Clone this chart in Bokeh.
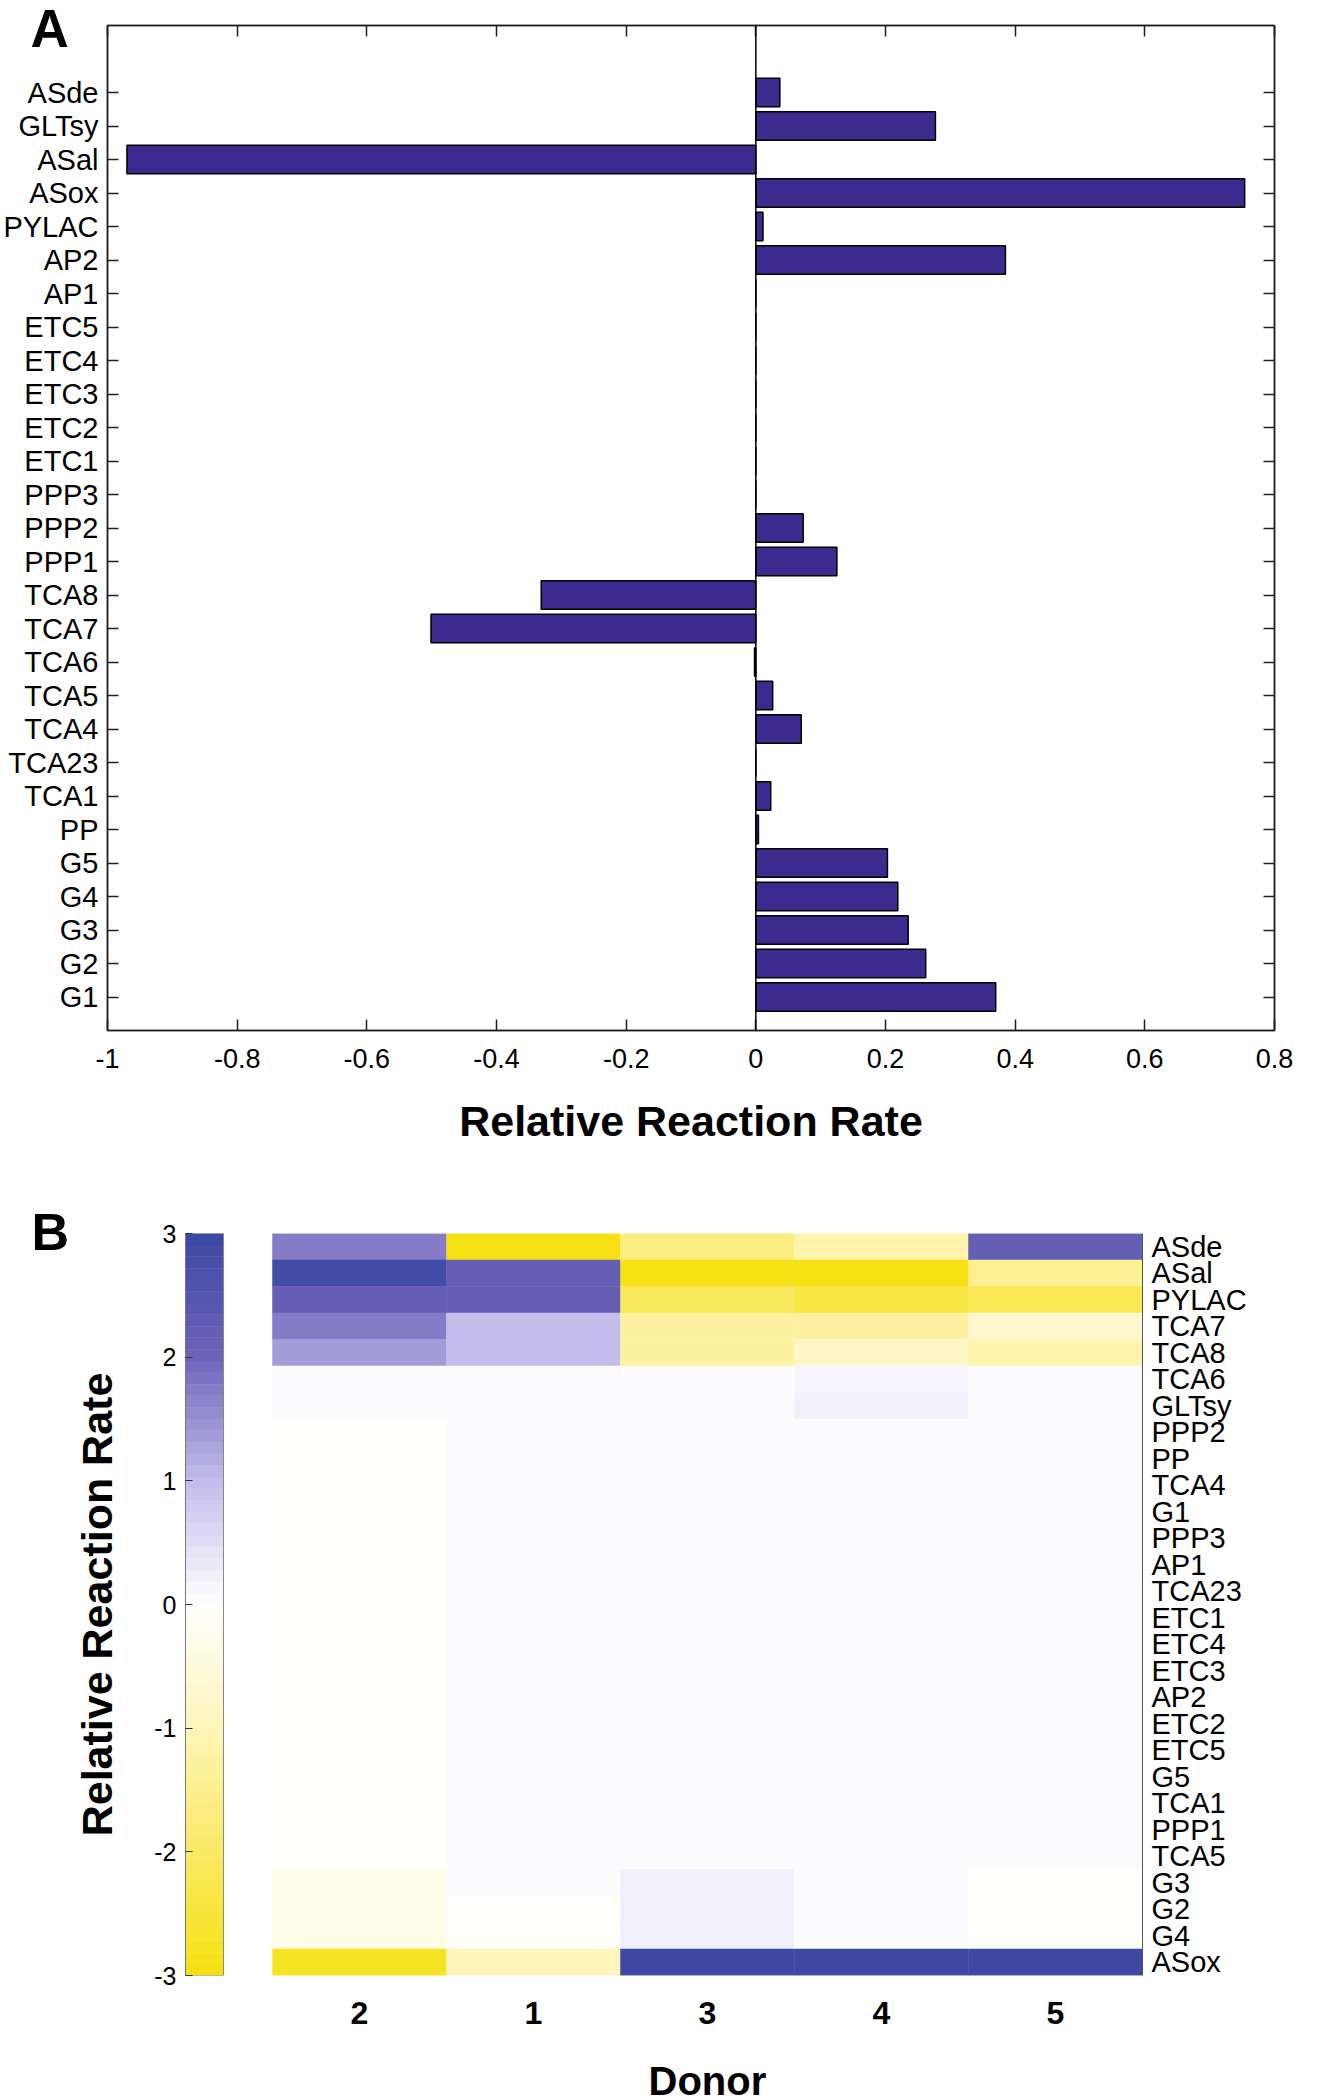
import numpy as np
from bokeh.plotting import figure
from bokeh.models import (FixedTicker, LinearAxis, Range1d, Span, Title,
                          LinearColorMapper, ColumnDataSource, CustomLabelingPolicy)
from bokeh.transform import transform
from bokeh.embed import file_html
from bokeh.resources import INLINE

# ---------------- data: panel A ----------------
bar_labels = ["ASde", "GLTsy", "ASal", "ASox", "PYLAC", "AP2", "AP1", "ETC5", "ETC4",
              "ETC3", "ETC2", "ETC1", "PPP3", "PPP2", "PPP1", "TCA8", "TCA7", "TCA6",
              "TCA5", "TCA4", "TCA23", "TCA1", "PP", "G5", "G4", "G3", "G2", "G1"]
bar_values = [0.037, 0.277, -0.970, 0.754, 0.011, 0.385, 0.0, 0.0, 0.0,
              0.0, 0.0, 0.0, 0.0, 0.073, 0.125, -0.331, -0.501, -0.002,
              0.026, 0.070, 0.0, 0.023, 0.004, 0.203, 0.219, 0.235, 0.262, 0.370]
xtick_vals = [-1.0, -0.8, -0.6, -0.4, -0.2, 0.0, 0.2, 0.4, 0.6, 0.8]
xtick_labels = ["-1", "-0.8", "-0.6", "-0.4", "-0.2", "0", "0.2", "0.4", "0.6", "0.8"]

# ---------------- data: panel B ----------------
heat_rows = ["ASde", "ASal", "PYLAC", "TCA7", "TCA8", "TCA6", "GLTsy", "PPP2", "PP",
             "TCA4", "G1", "PPP3", "AP1", "TCA23", "ETC1", "ETC4", "ETC3", "AP2",
             "ETC2", "ETC5", "G5", "TCA1", "PPP1", "TCA5", "G3", "G2", "G4", "ASox"]
donor_labels = ["2", "1", "3", "4", "5"]
donor2 = [1.7, 2.9, 2.2, 1.7, 1.35, 0.0, 0.0] + [-0.05] * 17 + [-0.3, -0.3, -0.3, -2.8]
donor1 = [-3.0, 2.2, 2.2, 1.0, 1.0, 0.0, 0.0] + [0.0] * 17 + [0.0, -0.02, -0.02, -1.0]
donor3 = [-1.6, -3.0, -2.1, -1.3, -1.3, 0.08, 0.08] + [0.08] * 17 + [0.2, 0.2, 0.2, 3.0]
donor4 = [-1.2, -3.0, -2.4, -1.3, -0.8, 0.12, 0.2] + [0.08] * 17 + [0.02, 0.02, 0.06, 3.0]
donor5 = [2.2, -1.5, -2.2, -0.7, -1.2, 0.0, 0.03] + [0.0] * 17 + [-0.05, -0.05, -0.05, 3.0]
donor_columns = [donor2, donor1, donor3, donor4, donor5]
cb_ticks = [-3, -2, -1, 0, 1, 2, 3]

FONT = "Liberation Sans"

# ---------------- palette (yellow - white - blue) ----------------
anchor_v = [-3, -2, -1, 0, 1, 2, 3]
anchor_c = [(245, 225, 15), (250, 233, 100), (255, 245, 185), (255, 255, 255),
            (195, 188, 235), (110, 100, 186), (60, 72, 163)]
NSTEP = 64
palette = []
for i in range(NSTEP):
    v = -3 + (i + 0.5) * 6 / NSTEP
    rgb = [int(round(np.interp(v, anchor_v, [c[k] for c in anchor_c]))) for k in range(3)]
    palette.append("#%02x%02x%02x" % tuple(rgb))
mapper = LinearColorMapper(palette=palette, low=-3, high=3)

no_labels = CustomLabelingPolicy(code="return new Set()")

# ================= Panel A =================
nA = len(bar_labels)
ysA = [nA - i for i in range(nA)]
pA = figure(frame_width=1167, frame_height=1005, min_border_left=105, min_border_right=60,
            min_border_top=25, min_border_bottom=148, x_range=Range1d(-1, 0.8),
            y_range=Range1d(0, nA + 2), output_backend="svg", toolbar_location=None, tools="")
pA.hbar(y=ysA, left=0, right=bar_values, height=0.85, fill_color="#3C2A8E",
        line_color="black", line_width=1.5)
pA.add_layout(Span(location=0, dimension="height", line_color="black", line_width=1.5))

pA.xgrid.grid_line_color = None
pA.ygrid.grid_line_color = None
pA.outline_line_color = "#222222"
pA.outline_line_width = 1.5

xax = pA.xaxis[0]
xax.ticker = FixedTicker(ticks=xtick_vals)
xax.major_label_overrides = {v: s for v, s in zip(xtick_vals, xtick_labels)}
yax = pA.yaxis[0]
yax.ticker = FixedTicker(ticks=ysA)
yax.major_label_overrides = {y: s for y, s in zip(ysA, bar_labels)}

for ax in (xax, yax):
    ax.major_tick_in = 11
    ax.major_tick_out = 0
    ax.minor_tick_line_color = None
    ax.major_tick_line_color = "#222222"
    ax.major_tick_line_width = 1.5
    ax.axis_line_color = "#222222"
    ax.axis_line_width = 1.5
    ax.major_label_text_font = FONT
    ax.major_label_text_color = "black"
xax.major_label_text_font_size = "27px"
yax.major_label_text_font_size = "29px"
yax.major_label_standoff = 9
xax.major_label_standoff = 18
xax.axis_label = "Relative Reaction Rate"
xax.axis_label_text_font = FONT
xax.axis_label_text_font_size = "43px"
xax.axis_label_text_font_style = "bold"
xax.axis_label_text_color = "black"
xax.axis_label_standoff = 26

top_ax = LinearAxis(ticker=FixedTicker(ticks=xtick_vals), major_label_text_font_size="0px",
                    major_label_policy=no_labels,
                    major_label_standoff=0, major_tick_in=11, major_tick_out=0,
                    minor_tick_line_color=None, major_tick_line_width=1.5,
                    major_tick_line_color="#222222", axis_line_color="#222222",
                    axis_line_width=1.5)
pA.add_layout(top_ax, "above")
right_ax = LinearAxis(ticker=FixedTicker(ticks=ysA), major_label_text_font_size="0px",
                      major_label_policy=no_labels,
                      major_label_standoff=0, major_tick_in=11, major_tick_out=0,
                      minor_tick_line_color=None, major_tick_line_width=1.5,
                      major_tick_line_color="#222222", axis_line_color="#222222",
                      axis_line_width=1.5)
pA.add_layout(right_ax, "right")

pA.title.text = "A"
pA.title.align = "left"
pA.title.offset = -77
pA.title.standoff = -64
pA.title.vertical_align = "bottom"
pA.title.text_font = FONT
pA.title.text_font_size = "53px"
pA.title.text_font_style = "bold"
pA.title.text_color = "black"

# ================= Panel B =================
nR = len(heat_rows)
ncol = len(donor_labels)
pB = figure(frame_width=957, frame_height=742, min_border_left=185, min_border_right=190,
            min_border_top=55, min_border_bottom=125, x_range=Range1d(-0.5, ncol),
            y_range=Range1d(0, nR), y_axis_location=None,
            output_backend="svg", toolbar_location=None, tools="")
pB.extra_y_ranges = {"cb": Range1d(-3, 3)}
pB.xgrid.grid_line_color = None
pB.ygrid.grid_line_color = None
pB.outline_line_color = None

hx, hy, hv = [], [], []
for c, col in enumerate(donor_columns):
    for r, v in enumerate(col):
        hx.append(c + 0.5)
        hy.append(nR - r - 0.5)
        hv.append(v)
hsrc = ColumnDataSource(dict(x=hx, y=hy, v=hv))
pB.rect(x="x", y="y", width=1, height=1, source=hsrc,
        fill_color=transform("v", mapper), line_color=transform("v", mapper), line_width=0.5)

# colour bar drawn from the same mapper
cb_w = 0.2185
cb_levels = [-3 + (i + 0.5) * 6 / NSTEP for i in range(NSTEP)]
csrc = ColumnDataSource(dict(y=cb_levels))
pB.rect(x=-0.5 + cb_w / 2, y="y", width=cb_w, height=6 / NSTEP, source=csrc,
        y_range_name="cb", fill_color=transform("y", mapper),
        line_color=transform("y", mapper), line_width=0.5)
pB.quad(left=[-0.5], right=[-0.5 + cb_w], bottom=[-3], top=[3], y_range_name="cb",
        fill_color=None, line_color="#888888", line_width=1)

bx = pB.xaxis[0]
bx.ticker = FixedTicker(ticks=[c + 0.5 for c in range(ncol)])
bx.major_label_overrides = {c + 0.5: s for c, s in enumerate(donor_labels)}
bx.axis_line_color = None
bx.major_tick_line_color = None
bx.minor_tick_line_color = None
bx.major_label_text_font = FONT
bx.major_label_text_font_size = "32px"
bx.major_label_text_font_style = "bold"
bx.major_label_text_color = "black"
bx.major_label_standoff = 20

left_b = LinearAxis(y_range_name="cb", ticker=FixedTicker(ticks=cb_ticks),
                    major_label_overrides={t: str(t) for t in cb_ticks},
                    major_tick_in=7, major_tick_out=0, minor_tick_line_color=None,
                    major_tick_line_color="#333333", axis_line_color="#777777",
                    axis_line_width=1, major_label_text_font=FONT,
                    major_label_text_font_size="25px", major_label_text_color="black",
                    major_label_standoff=9,
                    axis_label="Relative Reaction Rate", axis_label_text_font=FONT,
                    axis_label_text_font_size="43px", axis_label_text_font_style="bold",
                    axis_label_text_color="black", axis_label_standoff=30)
pB.add_layout(left_b, "left")

row_y = [nR - r - 0.5 for r in range(nR)]
right_b = LinearAxis(ticker=FixedTicker(ticks=row_y),
                     major_label_overrides={y: s for y, s in zip(row_y, heat_rows)},
                     major_tick_line_color=None, minor_tick_line_color=None,
                     major_tick_in=0, major_tick_out=0,
                     axis_line_color="#555555", axis_line_width=1,
                     major_label_text_font=FONT, major_label_text_font_size="29px",
                     major_label_text_color="black", major_label_standoff=9)
pB.add_layout(right_b, "right")

pB.title.text = "B"
pB.title.align = "left"
pB.title.offset = -154
pB.title.standoff = -54
pB.title.vertical_align = "bottom"
pB.title.text_font = FONT
pB.title.text_font_size = "52px"
pB.title.text_font_style = "bold"
pB.title.text_color = "black"

donor_title = Title(text="Donor", align="left", offset=463, standoff=64,
                    vertical_align="top", text_font=FONT, text_font_size="40px",
                    text_font_style="bold", text_color="black")
pB.add_layout(donor_title, "below")

open("out.html", "w").write(file_html([pA, pB], INLINE))
